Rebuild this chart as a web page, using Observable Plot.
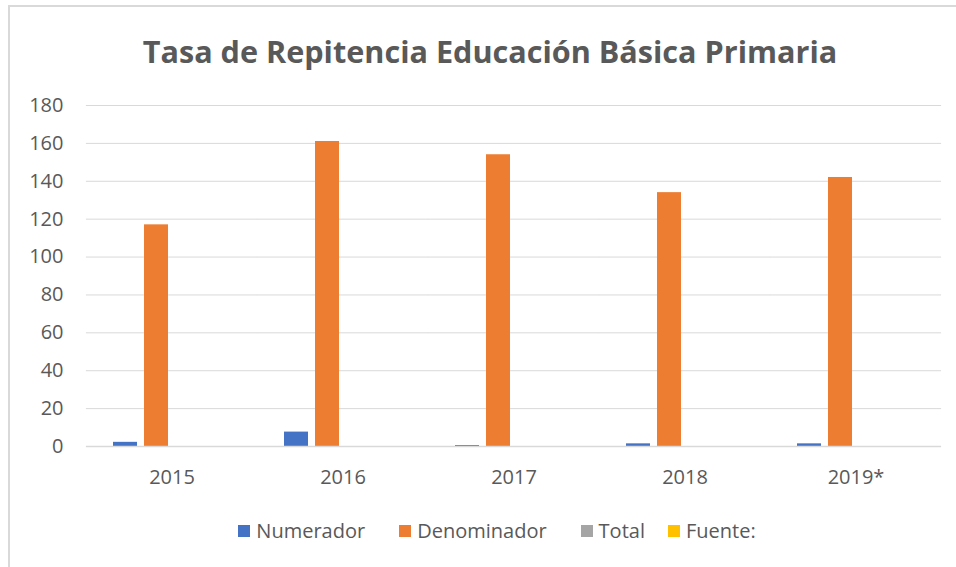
<!DOCTYPE html>
<html><head><meta charset="utf-8">
<script src="https://cdn.jsdelivr.net/npm/d3@7"></script>
<script src="https://cdn.jsdelivr.net/npm/@observablehq/plot@0.6"></script>
<style>
body{margin:0;background:#fff;}
#wrap{position:relative;width:956px;height:567px;overflow:hidden;font-family:"Open Sans",sans-serif;color:#595959;}
#frame{position:absolute;left:8px;top:5px;width:1000px;height:700px;border-left:2px solid #d9d9d9;border-top:2px solid #d9d9d9;}
#title{position:absolute;left:0;width:980px;top:36px;line-height:30px;text-align:center;font-weight:700;font-size:30.6px;white-space:nowrap;}
#chart{position:absolute;left:0;top:80px;}
#legend{position:absolute;top:519px;left:0;width:994px;display:flex;justify-content:center;font-size:20px;line-height:24px;}
#legend .item{display:flex;align-items:center;margin:0 17px;}
#legend .item:nth-child(4){margin-left:6px;}
#legend .sw{width:12px;height:12px;margin-right:6px;}
</style></head>
<body>
<div id="wrap">
  <div id="frame"></div>
  <div id="title">Tasa de Repitencia Educación Básica Primaria</div>
  <div id="chart"></div>
  <div id="legend"></div>
</div>
<script>
const years = ["2015", "2016", "2017", "2018", "2019*"];
const series = ["Numerador", "Denominador", "Total", "Fuente:"];
const numerador = [2.2, 7.6, 0.5, 1.4, 1.4];
const denominador = [117, 161, 154, 134, 142];
const total = [0, 0, 0, 0, 0];
const fuente = [0, 0, 0, 0, 0];
const colors = ["#4472c4", "#ed7d31", "#a5a5a5", "#ffc000"];
const yTicks = [0, 20, 40, 60, 80, 100, 120, 140, 160, 180];

const valuesBySeries = [numerador, denominador, total, fuente];
const data = years.flatMap((year, i) =>
  series.map((s, j) => ({year, series: s, value: valuesBySeries[j][i]}))
);

// half of the gap between facet bands, so per-facet grid lines join up
const halfGap = -27.1;

const chart = Plot.plot({
  width: 956,
  height: 420,
  marginTop: 25,
  marginBottom: 54,
  marginLeft: 85,
  marginRight: 15,
  style: {fontFamily: "'Open Sans', sans-serif", fontSize: "20px", color: "#595959", background: "transparent", overflow: "visible"},
  fx: {domain: years, paddingInner: 0.316, paddingOuter: 0.158, label: null, axis: null},
  x: {domain: series, paddingInner: 0.226, paddingOuter: 0, axis: null},
  y: {domain: [0, 180], label: null, axis: null},
  color: {domain: series, range: colors},
  marks: [
    Plot.ruleY(yTicks.slice(1), {stroke: "#d9d9d9", strokeWidth: 1, insetLeft: halfGap, insetRight: halfGap}),
    Plot.barY(data, {fx: "year", x: "series", y: "value", fill: "series"}),
    Plot.ruleY([0], {stroke: "#d9d9d9", strokeWidth: 1.5, insetLeft: halfGap, insetRight: halfGap}),
    Plot.axisY(yTicks, {tickSize: 0, tickPadding: 50, label: null, fill: "#595959", fontSize: 20}),
    Plot.axisFx({anchor: "bottom", tickSize: 0, tickPadding: 23, label: null, fill: "#595959", fontSize: 20})
  ]
});
document.getElementById("chart").appendChild(chart);

const legend = document.getElementById("legend");
series.forEach((s, i) => {
  const item = document.createElement("div");
  item.className = "item";
  const sw = document.createElement("span");
  sw.className = "sw";
  sw.style.background = colors[i];
  const t = document.createElement("span");
  t.textContent = s;
  item.appendChild(sw);
  item.appendChild(t);
  legend.appendChild(item);
});
</script>
</body></html>
